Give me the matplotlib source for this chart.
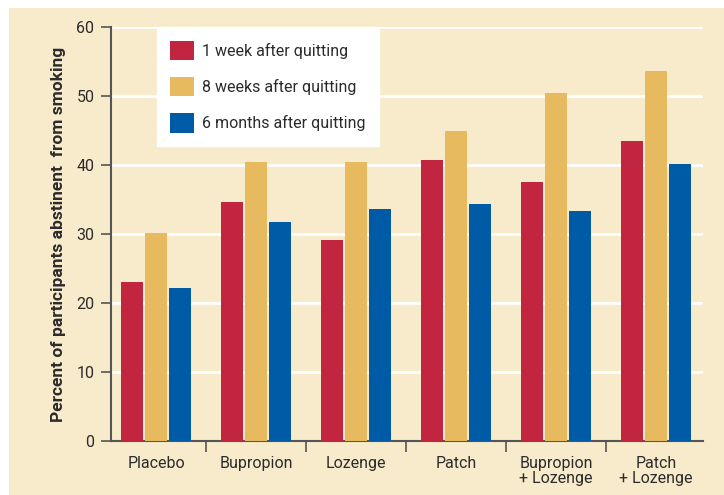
import matplotlib
matplotlib.use("Agg")
import matplotlib.pyplot as plt
import numpy as np
from matplotlib.patches import Rectangle

# data
categories = ["Placebo", "Bupropion", "Lozenge", "Patch", "Bupropion\n+ Lozenge", "Patch\n+ Lozenge"]
week1 = [23.1, 34.6, 29.2, 40.7, 37.6, 43.5]
week8 = [30.2, 40.4, 40.4, 44.9, 50.4, 53.6]
month6 = [22.2, 31.8, 33.6, 34.4, 33.4, 40.1]
series_labels = ["1 week after quitting", "8 weeks after quitting", "6 months after quitting"]

colors = ["#C1253F", "#E8BA60", "#005BA6"]
bg = "#F7EBCB"
ink = "#2b2b2b"

plt.rcParams["font.family"] = ["Roboto", "DejaVu Sans"]

fig = plt.figure(figsize=(7.24, 4.95), dpi=100)
fig.patches.append(Rectangle((9 / 724, 0), 1, 487 / 495, transform=fig.transFigure,
                             facecolor=bg, edgecolor="none", zorder=-10))
ax = fig.add_axes([111 / 724, 54 / 495, 592 / 724, 414 / 495])
ax.set_facecolor("none")

x = np.arange(len(categories))
w = 0.225
step = 0.24
for i, (vals, c, lab) in enumerate(zip([week1, week8, month6], colors, series_labels)):
    ax.bar(x + (i - 1) * step, vals, width=w, color=c, label=lab, zorder=3)

ax.set_xlim(-0.45, 5.47)
ax.set_ylim(0, 60)
ax.set_yticks(np.arange(0, 61, 10))
for y in range(10, 61, 10):
    ax.axhline(y, color="white", lw=2, zorder=1)

ax.set_xticks(x)
ax.set_xticklabels(categories, fontsize=11.5, color=ink, linespacing=1.0)
ax.set_xticks(x[:-1] + 0.5, minor=True)
ax.tick_params(axis="x", which="major", length=0, pad=11)
ax.tick_params(axis="x", which="minor", length=8, width=1.2, color="#555555")
ax.tick_params(axis="y", length=7, width=1.2, color="#555555", labelsize=11.5,
               labelcolor=ink, pad=5)

for s in ["top", "right"]:
    ax.spines[s].set_visible(False)
for s in ["left", "bottom"]:
    ax.spines[s].set_color("#555555")
    ax.spines[s].set_linewidth(1.5)

ax.set_ylabel("Percent of participants abstinent  from smoking", fontsize=12.5,
              fontweight="bold", color=ink, labelpad=7)

leg = ax.legend(loc="upper left", bbox_to_anchor=(0.077, 1.0), frameon=True,
                fancybox=False, facecolor="white", edgecolor="white", framealpha=1,
                fontsize=11.5, handlelength=1.5, handleheight=1.5, labelspacing=1.05,
                borderpad=0.85, handletextpad=0.5, borderaxespad=0)
for t in leg.get_texts():
    t.set_color(ink)
leg.set_zorder(5)

plt.savefig("out.png", dpi=100)
plt.close()
